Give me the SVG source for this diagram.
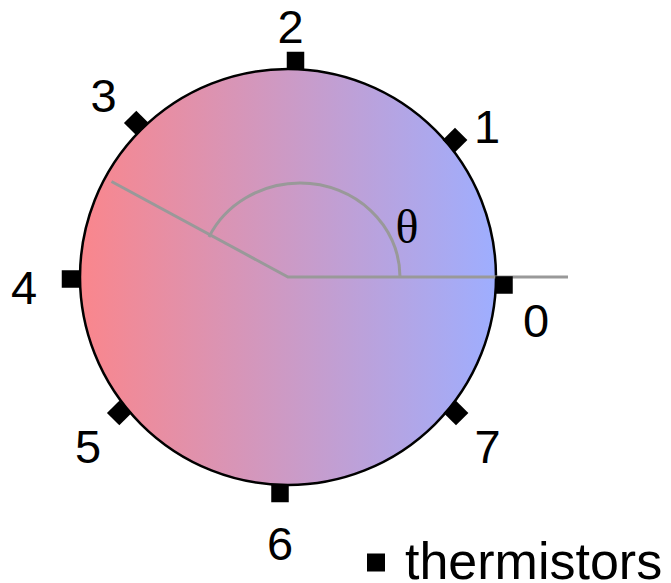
<svg xmlns="http://www.w3.org/2000/svg" width="671" height="583" viewBox="0 0 671 583">
<defs>
<linearGradient id="grad" x1="80" y1="0" x2="496" y2="0" gradientUnits="userSpaceOnUse">
<stop offset="0" stop-color="#fa868c"/>
<stop offset="1" stop-color="#9eaeff"/>
</linearGradient>
<rect id="th" x="-8.75" y="-8.75" width="17.5" height="17.5" fill="#000"/>
</defs>
<style>
.lbl{font-family:"Liberation Sans",Arial,Helvetica,sans-serif;font-size:47px;fill:#000;text-anchor:middle}
.guide{fill:none;stroke:#999;stroke-width:3}
</style>
<g id="disc">
<circle cx="288" cy="277" r="208" fill="url(#grad)" stroke="#000" stroke-width="2.5"/>
</g>
<g id="connectors">
<path class="guide" d="M568 277 H288 L111.5 181.5"/>
<path class="guide" d="M400 277 C400 225.1 355.2 183 300 183 C260.8 183 225.3 204.5 209 237"/>
</g>
<text x="407" y="243" style="font-family:'Liberation Serif','Times New Roman',serif;font-size:48px;fill:#000;text-anchor:middle">θ</text>
<g id="t0"><use href="#th" transform="translate(504,285)"/><text class="lbl" x="536" y="337">0</text></g>
<g id="t1"><use href="#th" transform="translate(455,140) rotate(45)"/><text class="lbl" x="487" y="143">1</text></g>
<g id="t2"><use href="#th" transform="translate(295.5,60.5)"/><text class="lbl" x="290.5" y="43">2</text></g>
<g id="t3"><use href="#th" transform="translate(136.3,123) rotate(45)"/><text class="lbl" x="103.5" y="112">3</text></g>
<g id="t4"><use href="#th" transform="translate(70.5,279)"/><text class="lbl" x="24" y="304">4</text></g>
<g id="t5"><use href="#th" transform="translate(119.3,413) rotate(45)"/><text class="lbl" x="88" y="463">5</text></g>
<g id="t6"><use href="#th" transform="translate(280,493.5)"/><text class="lbl" x="280" y="560">6</text></g>
<g id="t7"><use href="#th" transform="translate(456,413) rotate(45)"/><text class="lbl" x="487.5" y="463">7</text></g>
<g id="legend">
<rect x="367" y="553.5" width="18" height="18" fill="#000"/>
<text x="405" y="579" style="font-family:'Liberation Sans',Arial,Helvetica,sans-serif;font-size:52px;fill:#000">thermistors</text>
</g>
</svg>
